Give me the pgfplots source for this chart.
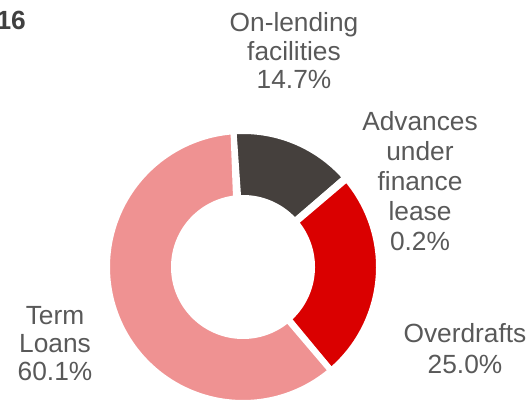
\documentclass[border=0pt]{standalone}
\usepackage{fontspec}
\setmainfont{Liberation Sans}
\usepackage{pgfplots}
\usepackage{pgfplotstable}
\pgfplotsset{compat=1.18}
\definecolor{txtgrey}{HTML}{595959}
\definecolor{titlegrey}{HTML}{404040}
\definecolor{cdark}{HTML}{45403D}
\definecolor{cred}{HTML}{DA0000}
\definecolor{cpink}{HTML}{EF9292}

\pgfplotstableread{
name value
OnLending 14.7
Advances 0.2
Overdrafts 25.0
TermLoans 60.1
}\piedata

\pgfplotstablegetelem{0}{value}\of\piedata \let\vA\pgfplotsretval
\pgfplotstablegetelem{1}{value}\of\piedata \let\vB\pgfplotsretval
\pgfplotstablegetelem{2}{value}\of\piedata \let\vC\pgfplotsretval
\pgfplotstablegetelem{3}{value}\of\piedata \let\vD\pgfplotsretval
\pgfmathsetmacro\aA{94}
\pgfmathsetmacro\aB{\aA-3.6*\vA}
\pgfmathsetmacro\aC{\aB-3.6*\vB}
\pgfmathsetmacro\aD{\aC-3.6*\vC}
\pgfmathsetmacro\aE{\aD-3.6*\vD}
\def\Ro{136}
\def\Ri{69}

\newcommand\slice[3]{%
  \addplot[fill=#3, draw=white, line width=6bp, line join=round,
    domain=0:2, samples=241, variable=\t]
  ({((\t<=1) ? \Ro : \Ri)*cos(((\t<=1) ? (#1+(#2-#1)*\t) : (#2-(#2-#1)*(\t-1))))},
   {((\t<=1) ? \Ro : \Ri)*sin(((\t<=1) ? (#1+(#2-#1)*\t) : (#2-(#2-#1)*(\t-1))))}) -- cycle;
}

\begin{document}
\begin{tikzpicture}
\useasboundingbox (0,0) rectangle (531bp,401bp);
\begin{axis}[at={(0,0)}, anchor=south west, scale only axis,
  width=531bp, height=401bp,
  xmin=-243, xmax=288, ymin=-134, ymax=267,
  hide axis, clip=false]
\slice{\aA}{\aB}{cdark}
\slice{\aB}{\aC}{cdark}
\slice{\aC}{\aD}{cred}
\slice{\aD}{\aE}{cpink}
\begin{scope}[every node/.style={text=txtgrey, align=center, inner sep=0pt, anchor=base}]
\node[font=\fontsize{26.3bp}{28.5bp}\selectfont] at (axis cs:51,178) {On-lending\\facilities\\14.7\%};
\node[font=\fontsize{26.3bp}{30bp}\selectfont] at (axis cs:177,16) {Advances\\under\\finance\\lease\\0.2\%};
\node[font=\fontsize{26.3bp}{31bp}\selectfont] at (axis cs:222,-106) {Overdrafts\\25.0\%};
\node[font=\fontsize{26.3bp}{28bp}\selectfont] at (axis cs:-188,-113) {Term\\Loans\\60.1\%};
\end{scope}
\node[font=\fontsize{26.3bp}{29bp}\selectfont\bfseries, text=titlegrey, inner sep=0pt, anchor=base east] at (axis cs:-217,237) {16};
\end{axis}
\end{tikzpicture}
\end{document}
